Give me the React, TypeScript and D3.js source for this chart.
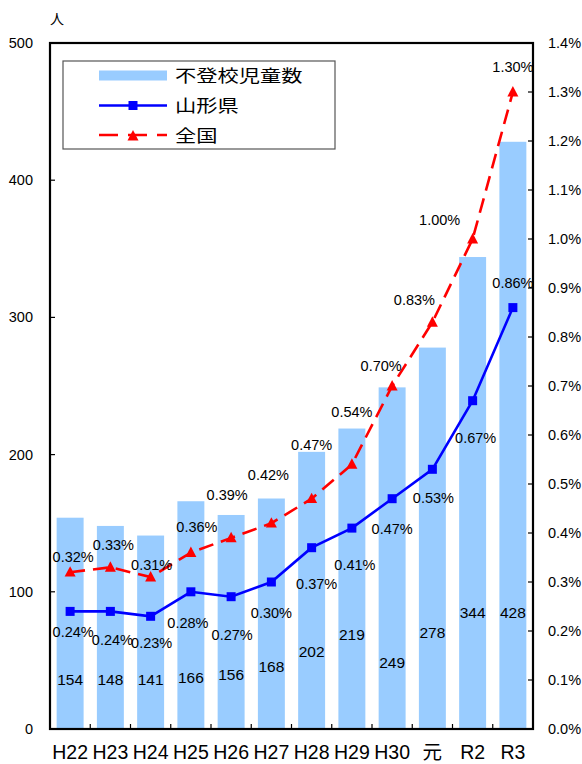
import React from "react";
import * as d3 from "d3";

const categories = ["H22", "H23", "H24", "H25", "H26", "H27", "H28", "H29", "H30", "元", "R2", "R3"];
const absentees = [154, 148, 141, 166, 156, 168, 202, 219, 249, 278, 344, 428];
const yamagataRate = [0.24, 0.24, 0.23, 0.28, 0.27, 0.3, 0.37, 0.41, 0.47, 0.53, 0.67, 0.86];
const nationalRate = [0.32, 0.33, 0.31, 0.36, 0.39, 0.42, 0.47, 0.54, 0.7, 0.83, 1.0, 1.3];
const leftTicks = [0, 100, 200, 300, 400, 500];
const rightTicks = [0, 0.1, 0.2, 0.3, 0.4, 0.5, 0.6, 0.7, 0.8, 0.9, 1.0, 1.1, 1.2, 1.3, 1.4];
const legendLabels = ["不登校児童数", "山形県", "全国"];
const leftUnit = "人";

// label placement (layout only)
const natLabelDx = [3, 3, 1, 6, -4, -3, 0, 0, -11, -18, -33, 0];
const natLabelDy = [-10, -17, -7, -21, -38, -43, -49, -47, -15, -17, -14, -20];
const yamaLabelDx = [3, 2, 1, -3, 1, 0, 5, 3, 0, 1, 3, 0];
const yamaLabelDy = [26, 34, 32, 36, 43, 36, 41, 42, 35, 34, 42, -20];
const barLabelLift = [44, 44, 44, 46, 49, 57, 72, 89, 61, 91, 111, 111];

const W = 582;
const H = 764;
const plot = { left: 50, right: 533, top: 43, bottom: 729 };
const latin = "'Liberation Sans', Arial, sans-serif";
const cjk = "'Noto Sans CJK JP', 'Noto Sans', sans-serif";

export default function App() {
  const x = d3
    .scaleBand<string>()
    .domain(categories)
    .range([plot.left, plot.right])
    .paddingInner(0.33)
    .paddingOuter(0.165);
  const yL = d3.scaleLinear().domain([0, 500]).range([plot.bottom, plot.top]);
  const yR = d3.scaleLinear().domain([0, 1.4]).range([plot.bottom, plot.top]);
  const cx = (c: string) => (x(c) as number) + x.bandwidth() / 2;

  const yamaLine = d3
    .line<number>()
    .x((_, i) => cx(categories[i]))
    .y((d) => yR(d))(yamagataRate) as string;
  const natLine = d3
    .line<number>()
    .x((_, i) => cx(categories[i]))
    .y((d) => yR(d))(nationalRate) as string;

  const step = x.step();
  const boundaries = categories.slice(1).map((c) => (x(c) as number) - (step - x.bandwidth()) / 2);

  const tri = (px: number, py: number, s = 11) =>
    `M${px},${py - s * 0.55} L${px + s / 2},${py + s * 0.4} L${px - s / 2},${py + s * 0.4} Z`;

  const legend = { x: 63, y: 61, w: 272, h: 88 };
  const legRows = [75.5, 105.5, 135];

  return (
    <svg
      width={W}
      height={H}
      style={{ position: "absolute", left: 0, top: 0, background: "#fff" }}
    >
      <rect x={0} y={0} width={W} height={H} fill="#fff" />
      {/* bars */}
      {absentees.map((v, i) => (
        <rect
          key={"b" + i}
          x={x(categories[i])}
          y={yL(v)}
          width={x.bandwidth()}
          height={plot.bottom - yL(v)}
          fill="#99CCFF"
        />
      ))}
      {/* bar labels */}
      {absentees.map((v, i) => (
        <text
          key={"bl" + i}
          x={cx(categories[i])}
          y={plot.bottom - barLabelLift[i]}
          textAnchor="middle"
          fontFamily={latin}
          fontSize={15.5}
          fill="#000"
        >
          {v}
        </text>
      ))}
      {/* frame */}
      <rect
        x={plot.left}
        y={plot.top}
        width={plot.right - plot.left}
        height={plot.bottom - plot.top}
        fill="none"
        stroke="#000"
        strokeWidth={2.2}
      />
      {/* ticks */}
      {leftTicks.map((t) => (
        <line key={"lt" + t} x1={plot.left} x2={plot.left + 5} y1={yL(t)} y2={yL(t)} stroke="#000" strokeWidth={1.2} />
      ))}
      {rightTicks.map((t) => (
        <line key={"rt" + t} x1={plot.right - 5} x2={plot.right} y1={yR(t)} y2={yR(t)} stroke="#000" strokeWidth={1.2} />
      ))}
      {boundaries.map((b, i) => (
        <line key={"xt" + i} x1={b} x2={b} y1={plot.bottom} y2={plot.bottom - 5} stroke="#000" strokeWidth={1.2} />
      ))}
      {/* tick labels */}
      {leftTicks.map((t) => (
        <text key={"ltl" + t} x={33} y={yL(t) + 5} textAnchor="end" fontFamily={latin} fontSize={14.5} fill="#000">
          {t}
        </text>
      ))}
      {rightTicks.map((t) => (
        <text key={"rtl" + t} x={548} y={yR(t) + 5} textAnchor="start" fontFamily={latin} fontSize={14.5} fill="#000">
          {t.toFixed(1) + "%"}
        </text>
      ))}
      {categories.map((c) => (
        <text
          key={"xl" + c}
          x={cx(c)}
          y={759}
          textAnchor="middle"
          fontFamily={/[A-Za-z0-9]/.test(c) ? latin : cjk}
          fontSize={19.5}
          fill="#000"
        >
          {c}
        </text>
      ))}
      <text x={57} y={24} textAnchor="middle" fontFamily={cjk} fontSize={14} fill="#000">
        {leftUnit}
      </text>
      {/* national line */}
      <path d={natLine} fill="none" stroke="#FF0000" strokeWidth={2.6} strokeDasharray="15,8" />
      {nationalRate.map((v, i) => (
        <path key={"nt" + i} d={tri(cx(categories[i]), yR(v))} fill="#FF0000" />
      ))}
      {/* yamagata line */}
      <path d={yamaLine} fill="none" stroke="#0000FF" strokeWidth={2.6} />
      {yamagataRate.map((v, i) => (
        <rect key={"ym" + i} x={cx(categories[i]) - 4.5} y={yR(v) - 4.5} width={9} height={9} fill="#0000FF" />
      ))}
      {/* value labels */}
      {nationalRate.map((v, i) => (
        <text
          key={"nl" + i}
          x={cx(categories[i]) + natLabelDx[i]}
          y={yR(v) + natLabelDy[i]}
          textAnchor="middle"
          fontFamily={latin}
          fontSize={14.5}
          fill="#000"
        >
          {v.toFixed(2) + "%"}
        </text>
      ))}
      {yamagataRate.map((v, i) => (
        <text
          key={"yl" + i}
          x={cx(categories[i]) + yamaLabelDx[i]}
          y={yR(v) + yamaLabelDy[i]}
          textAnchor="middle"
          fontFamily={latin}
          fontSize={14.5}
          fill="#000"
        >
          {v.toFixed(2) + "%"}
        </text>
      ))}
      {/* legend */}
      <rect x={legend.x} y={legend.y} width={legend.w} height={legend.h} fill="#fff" stroke="#555" strokeWidth={1.2} />
      <rect x={99} y={legRows[0] - 5} width={68} height={10} fill="#99CCFF" />
      <line x1={99} x2={167} y1={legRows[1]} y2={legRows[1]} stroke="#0000FF" strokeWidth={2.6} />
      <rect x={133 - 4.5} y={legRows[1] - 4.5} width={9} height={9} fill="#0000FF" />
      <line x1={99} x2={167} y1={legRows[2]} y2={legRows[2]} stroke="#FF0000" strokeWidth={2.6} strokeDasharray="19,10" />
      <path d={tri(133, legRows[2] + 1, 11)} fill="#FF0000" />
      {legendLabels.map((l, i) => (
        <text
          key={"lg" + i}
          transform={`translate(175,${legRows[i] + 6.5}) scale(1.25,1)`}
          fontFamily={cjk}
          fontSize={17}
          fill="#000"
        >
          {l}
        </text>
      ))}
    </svg>
  );
}
